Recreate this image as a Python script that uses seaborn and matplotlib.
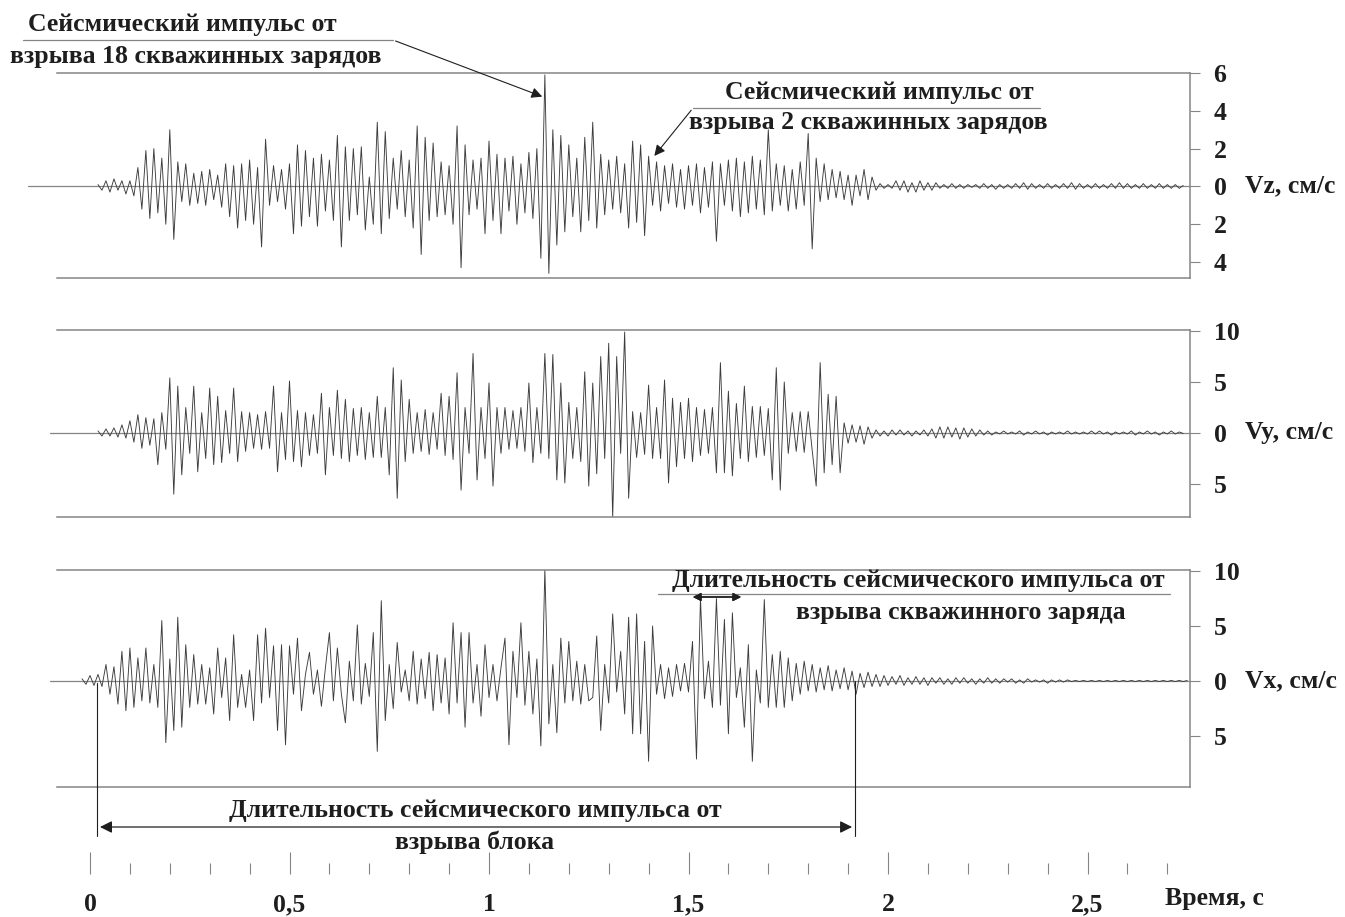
import numpy as np
import pandas as pd
import matplotlib
matplotlib.use('Agg')
import matplotlib.pyplot as plt
from matplotlib.lines import Line2D
import seaborn as sns

# --- data, one value per 0.01 s ---
vz_t0 = 0.02
vz = [
    0.1, -0.2, 0.3, -0.3, 0.4, -0.2, 0.3, -0.4, 0.3, -0.5,
    1.0, -1.2, 1.9, -1.7, 2.0, -1.4, 1.5, -2.0, 3.0, -2.8,
    1.3, -0.8, 1.2, -1.0, 0.7, -0.9, 0.8, -1.0, 0.9, -0.7,
    0.6, -1.1, 1.2, -1.6, 1.1, -2.2, 1.2, -1.8, 1.4, -2.0,
    1.0, -3.2, 2.5, -1.0, 1.1, -0.8, 0.9, -1.2, 1.2, -2.5,
    2.2, -2.1, 1.9, -1.6, 1.5, -2.1, 1.7, -1.3, 1.4, -1.8,
    2.7, -3.2, 2.1, -1.8, 2.0, -1.5, 2.1, -2.3, 0.5, -2.0,
    3.4, -2.5, 2.9, -1.7, 1.5, -1.2, 1.9, -1.6, 1.4, -2.2,
    3.2, -3.6, 2.6, -1.8, 2.3, -1.6, 1.3, -1.5, 1.1, -2.0,
    3.2, -4.3, 2.2, -1.5, 1.4, -1.2, 1.5, -2.5, 2.4, -1.8,
    1.7, -2.5, 1.5, -1.3, 1.6, -2.0, 1.2, -1.4, 1.8, -1.7,
    2.0, -3.8, 5.9, -4.6, 3.0, -3.1, 2.7, -2.4, 2.2, -1.6,
    1.5, -2.4, 2.6, -1.8, 3.4, -2.2, 1.7, -1.5, 1.4, -1.2,
    1.6, -1.4, 1.2, -2.2, 2.4, -1.9, 2.2, -2.6, 1.6, -1.0,
    1.3, -1.3, 1.1, -0.9, 1.2, -1.1, 0.9, -1.2, 1.1, -1.0,
    1.2, -1.4, 1.0, -1.1, 1.3, -2.9, 1.2, -1.0, 1.4, -1.3,
    1.5, -1.6, 1.3, -1.4, 1.6, -1.2, 1.4, -1.5, 3.0, -1.3,
    1.2, -1.0, 1.1, -1.3, 0.9, -1.2, 1.3, -1.0, 2.8, -3.3,
    1.5, -0.8, 1.2, -0.7, 0.9, -0.6, 0.8, -0.7, 0.6, -1.0,
    0.6, -0.5, 0.9, -0.7, 0.5, -0.2, 0.15, -0.1, 0.1, -0.1,
    0.3, -0.2, 0.3, -0.3, 0.2, -0.3, 0.3, -0.2, 0.2, -0.2,
    0.2, -0.1, 0.1, -0.1, 0.15, -0.1, 0.1, -0.1, 0.1, -0.05,
    0.1, -0.1, 0.15, -0.1, 0.1, -0.15, 0.1, -0.1, 0.1, -0.1,
    0.15, -0.1, 0.2, -0.15, 0.15, -0.1, 0.1, -0.1, 0.15, -0.1,
    0.1, -0.1, 0.15, -0.1, 0.2, -0.15, 0.15, -0.1, 0.1, -0.1,
    0.15, -0.1, 0.1, -0.1, 0.15, -0.1, 0.2, -0.1, 0.15, -0.1,
    0.1, -0.1, 0.15, -0.1, 0.1, -0.1, 0.15, -0.1, 0.1, -0.1,
    0.1, -0.1, 0.05,
]

vy_t0 = 0.02
vy = [
    0.2, -0.3, 0.4, -0.3, 0.5, -0.4, 0.8, -0.5, 1.2, -0.9,
    1.8, -1.5, 1.5, -1.2, 1.4, -3.1, 2.0, -1.6, 5.4, -6.0,
    4.6, -4.1, 2.5, -2.0, 4.6, -3.8, 2.0, -2.5, 4.4, -3.1,
    3.6, -2.9, 2.2, -2.0, 4.4, -2.8, 2.1, -1.8, 2.0, -1.5,
    1.8, -1.6, 2.1, -1.5, 4.6, -3.8, 2.0, -2.6, 5.1, -2.8,
    2.2, -3.3, 2.0, -2.2, 1.8, -2.0, 3.9, -4.1, 2.5, -2.2,
    4.2, -2.5, 3.3, -2.8, 2.4, -2.2, 2.5, -2.6, 2.0, -2.4,
    3.6, -2.4, 2.5, -4.1, 6.4, -6.4, 5.2, -2.8, 3.3, -2.0,
    2.0, -1.8, 2.3, -2.1, 2.0, -1.6, 3.9, -2.2, 3.6, -2.6,
    5.9, -5.6, 2.5, -2.0, 7.8, -4.6, 2.5, -2.5, 4.9, -5.2,
    2.5, -2.0, 2.5, -1.6, 2.2, -1.5, 2.5, -1.8, 4.9, -2.9,
    2.5, -2.0, 7.8, -2.5, 7.7, -4.6, 4.9, -4.9, 3.0, -2.5,
    2.5, -2.8, 6.0, -5.2, 4.9, -4.0, 7.5, -2.5, 8.8, -8.3,
    7.5, -2.0, 9.9, -6.4, 2.1, -2.4, 2.0, -2.1, 4.7, -2.5,
    2.5, -2.5, 5.2, -4.9, 3.4, -3.3, 3.0, -2.5, 3.4, -2.8,
    2.5, -2.2, 2.3, -2.0, 2.5, -3.9, 6.9, -3.9, 4.1, -4.2,
    2.9, -2.5, 4.6, -2.8, 2.6, -2.4, 2.6, -2.2, 2.4, -4.6,
    6.4, -5.6, 5.0, -2.0, 2.0, -1.8, 2.1, -1.9, 2.1, -1.7,
    -5.2, 6.9, -3.9, 3.8, -3.1, 3.6, -3.9, 1.0, -1.0, 0.8,
    -0.9, 0.7, -1.1, 0.6, -0.5, 0.3, -0.3, 0.2, -0.3, 0.3,
    -0.2, 0.3, -0.2, 0.2, -0.3, 0.2, -0.2, 0.3, -0.3, 0.4,
    -0.5, 0.6, -0.5, 0.6, -0.4, 0.5, -0.6, 0.5, -0.4, 0.4,
    -0.3, 0.3, -0.2, 0.2, -0.2, 0.1, -0.1, 0.2, -0.1, 0.1,
    -0.1, 0.2, -0.2, 0.1, -0.1, 0.2, -0.1, 0.1, -0.2, 0.1,
    -0.1, 0.1, -0.1, 0.2, -0.1, 0.1, -0.1, 0.1, -0.1, 0.2,
    -0.1, 0.2, -0.1, 0.1, -0.2, 0.1, -0.1, 0.1, -0.1, 0.2,
    -0.2, 0.1, -0.1, 0.2, -0.1, 0.1, -0.2, 0.1, -0.1, 0.2,
    -0.1, 0.1, -0.05,
]

vx_t0 = -0.02
vx = [
    0.2, -0.3, 0.5, -0.4, 0.6, -0.5, 1.5, -1.2, 1.3, -2.1,
    2.7, -2.7, 3.0, -2.4, 2.1, -1.8, 3.0, -2.0, 1.5, -2.4,
    5.5, -5.6, 2.0, -4.5, 5.8, -4.2, 3.3, -2.4, 2.4, -2.1,
    1.5, -2.1, 1.2, -3.0, 3.0, -1.5, 2.1, -3.6, 4.2, -2.4,
    0.6, -2.4, 1.0, -3.6, 4.2, -2.0, 4.8, -1.5, 3.2, -4.5,
    3.3, -5.8, 3.2, -1.2, 3.9, -2.7, 0.6, 2.6, -1.2, 1.0,
    -2.3, 1.2, 4.4, -1.8, 3.0, -1.2, -3.8, 1.8, -1.8, 5.1,
    -2.1, 1.6, -1.4, 4.4, -6.4, 7.3, -3.6, 1.5, -2.5, 3.5,
    -1.0, 1.0, -1.8, 2.7, -2.1, 2.0, -1.6, 2.6, -2.7, 2.4,
    -2.0, 2.1, -3.0, 5.3, -2.0, 4.4, -4.2, 4.4, -2.0, 1.5,
    -3.2, 3.3, -1.5, 1.5, -1.8, 1.2, 3.9, -5.8, 2.7, -1.5,
    5.3, -2.2, 2.7, -3.0, 2.0, -5.9, 10.2, -3.9, 1.5, -4.7,
    3.9, -2.0, 3.6, -1.8, 1.8, -2.1, 1.5, -1.8, -1.5, 4.1,
    -4.5, 1.5, -2.0, 6.1, -1.0, 2.7, -3.0, 5.8, -4.8, 6.1,
    -4.8, 3.6, -7.3, 5.0, -1.2, 1.5, -1.6, 1.2, -1.4, 1.5,
    -0.9, 1.6, -1.0, 3.6, -7.1, 7.5, -1.6, 1.8, -2.4, 7.5,
    -2.2, 5.6, -4.8, 6.2, -1.5, 1.2, -4.2, 3.3, -7.3, 1.0,
    -2.0, 7.4, -2.4, 2.4, -2.4, 2.7, -2.4, 2.1, -1.8, 1.6,
    -1.2, 1.8, -0.9, 1.5, -1.0, 1.2, -0.8, 1.4, -0.9, 1.0,
    -0.7, 1.2, -0.8, 0.9, -1.2, 0.7, -0.6, 0.8, -0.5, 0.6,
    -0.5, 0.5, -0.4, 0.4, -0.3, 0.5, -0.4, 0.3, -0.3, 0.4,
    -0.3, 0.3, -0.4, 0.3, -0.2, 0.3, -0.3, 0.2, -0.3, 0.3,
    -0.2, 0.3, -0.2, 0.2, -0.3, 0.2, -0.2, 0.3, -0.2, 0.2,
    -0.2, 0.2, -0.1, 0.2, -0.2, 0.1, -0.2, 0.2, -0.1, 0.1,
    -0.1, 0.1, -0.2, 0.1, -0.1, 0.1, -0.1, 0.1, -0.05, 0.05,
    -0.05, 0.05, -0.05, 0.05, -0.05, 0.05, -0.05, 0.05, -0.05, 0.05,
    -0.05, 0.05, -0.05, 0.05, -0.05, 0.05, -0.05, 0.05, -0.05, 0.05,
    -0.05, 0.05, -0.05, 0.05, -0.05, 0.05, -0.05, 0.05,
]

vz_ticks = [6, 4, 2, 0, -2, -4]
vz_ticklabels = ['6', '4', '2', '0', '2', '4']
vy_ticks = [10, 5, 0, -5]
vy_ticklabels = ['10', '5', '0', '5']
vx_ticks = [10, 5, 0, -5]
vx_ticklabels = ['10', '5', '0', '5']
channel_labels = ['Vz, см/с', 'Vy, см/с', 'Vx, см/с']

time_major = [0, 0.5, 1, 1.5, 2, 2.5]
time_major_labels = ['0', '0,5', '1', '1,5', '2', '2,5']
time_minor = [0.1, 0.2, 0.3, 0.4, 0.6, 0.7, 0.8, 0.9, 1.1, 1.2, 1.3, 1.4,
              1.6, 1.7, 1.8, 1.9, 2.1, 2.2, 2.3, 2.4, 2.6, 2.7]
block_start, block_end = 0.018, 1.917

# --- layout (pixels of the 1345x917 picture) ---
W, H = 1345, 917
X0, PPS = 90, 399.0          # pixel of t=0, pixels per second
LEFT, RIGHT = 57, 1190


def fx(x):
    return x / W


def fy(y):
    return 1 - y / H


sns.set_style('white')
plt.rcParams['font.family'] = ['Liberation Serif', 'DejaVu Serif']
plt.rcParams['font.weight'] = 'bold'
FS = 18.5
INK = '#1e1e1e'
TRACE = '#3c3c3c'
FRAME = '#858585'

fig = plt.figure(figsize=(W / 100, H / 100), dpi=100)
xlim = ((LEFT - X0) / PPS, (RIGHT - X0) / PPS)

# values, t0, frame top px, frame bottom px, zero px, px per unit, zero-line start px
panels = [
    (vz, vz_t0, 73, 278, 186, 19.0, 28, vz_ticks, vz_ticklabels),
    (vy, vy_t0, 330, 517, 433, 10.2, 50, vy_ticks, vy_ticklabels),
    (vx, vx_t0, 570, 787, 681, 11.0, 50, vx_ticks, vx_ticklabels),
]
axes = []
for i, (vals, t0, ytop, ybot, yzero, ppu, zx, ticks, labels) in enumerate(panels):
    ax = fig.add_axes([fx(LEFT), fy(ybot), (RIGHT - LEFT) / W, (ybot - ytop) / H])
    df = pd.DataFrame({'t': t0 + 0.01 * np.arange(len(vals)), 'v': vals})
    sns.lineplot(data=df, x='t', y='v', ax=ax, color=TRACE, linewidth=0.65,
                 sort=False, estimator=None)
    ax.axhline(0, xmin=(zx - LEFT) / (RIGHT - LEFT), xmax=1, color=FRAME, lw=0.9,
               clip_on=False, zorder=0)
    ax.set_xlim(xlim)
    ax.set_ylim(-(ybot - yzero) / ppu, (yzero - ytop) / ppu)
    ax.set_xticks([])
    ax.set_xlabel('')
    ax.set_ylabel('')
    ax.yaxis.tick_right()
    ax.set_yticks(ticks)
    ax.set_yticklabels(labels)
    ax.tick_params(axis='y', right=True, left=False, length=7, width=0.8,
                   color=FRAME, pad=10, labelsize=FS, labelcolor=INK)
    ax.spines['left'].set_visible(False)
    for s in ['top', 'bottom', 'right']:
        ax.spines[s].set_color(FRAME)
        ax.spines[s].set_linewidth(1.1)
    ax.patch.set_alpha(0)
    fig.text(fx(1245), fy(yzero), channel_labels[i], ha='left', va='center',
             fontsize=FS, color=INK)
    axes.append(ax)

# time axis
axt = fig.add_axes([fx(LEFT), fy(874), (RIGHT - LEFT) / W, 20 / H])
axt.set_xlim(xlim)
axt.set_yticks([])
for s in axt.spines.values():
    s.set_visible(False)
axt.set_xticks(time_major)
axt.set_xticklabels(time_major_labels)
axt.set_xticks(time_minor, minor=True)
axt.tick_params(axis='x', which='major', bottom=True, direction='in', length=16,
                width=0.8, color=FRAME, pad=14, labelsize=FS, labelcolor=INK)
axt.tick_params(axis='x', which='minor', bottom=True, direction='in', length=8,
                width=0.8, color=FRAME)
axt.patch.set_alpha(0)
fig.text(fx(1165), fy(898), 'Время, с', ha='left', va='center', fontsize=FS, color=INK)

# --- annotations ---
def fline(xs, ys, **kw):
    fig.add_artist(Line2D([fx(x) for x in xs], [fy(y) for y in ys],
                          transform=fig.transFigure, **kw))


txt = dict(ha='center', va='center', fontsize=FS, color=INK)
arrow = dict(arrowstyle='-|>', color=INK, lw=0.8, mutation_scale=16)

fig.text(fx(182), fy(25), 'Сейсмический импульс от', **txt)
fig.text(fx(196), fy(57), 'взрыва 18 скважинных зарядов', **txt)
fline([23, 393], [40, 40], color=FRAME, lw=0.9)
axes[0].annotate('', xy=(1.14, 4.7), xycoords='data',
                 xytext=(fx(393), fy(40)), textcoords='figure fraction',
                 arrowprops=arrow)

fig.text(fx(879), fy(92), 'Сейсмический импульс от', **txt)
fig.text(fx(868), fy(122), 'взрыва 2 скважинных зарядов', **txt)
fline([693, 1040], [108, 108], color=FRAME, lw=0.9)
axes[0].annotate('', xy=(1.41, 1.5), xycoords='data',
                 xytext=(fx(693), fy(108)), textcoords='figure fraction',
                 arrowprops=arrow)

fig.text(fx(918), fy(580), 'Длительность сейсмического импульса от', **txt)
fig.text(fx(961), fy(612), 'взрыва скважинного заряда', **txt)
fline([658, 1170], [594, 594], color=FRAME, lw=0.9)
fig.add_artist(plt.annotate('', xy=(fx(690), fy(597)), xytext=(fx(744), fy(597)),
                            xycoords='figure fraction', textcoords='figure fraction',
                            arrowprops=dict(arrowstyle='<|-|>', color=INK, lw=1.0,
                                            mutation_scale=12)))

# duration of the block blast
ax3 = axes[2]
xa = X0 + PPS * block_start
xb = X0 + PPS * block_end
fline([xa, xa], [683, 836], color=INK, lw=0.8)
fline([xb, xb], [681, 836], color=INK, lw=0.8)
ax3.annotate('', xy=(fx(xa), fy(827)), xytext=(fx(xb), fy(827)),
             xycoords='figure fraction', textcoords='figure fraction',
             arrowprops=dict(arrowstyle='<|-|>', color=INK, lw=0.9, mutation_scale=18))
fig.text(fx(475), fy(810), 'Длительность сейсмического импульса от', **txt)
fig.text(fx(475), fy(842), 'взрыва блока', **txt)

fig.savefig('out.png', dpi=100, facecolor='white')
